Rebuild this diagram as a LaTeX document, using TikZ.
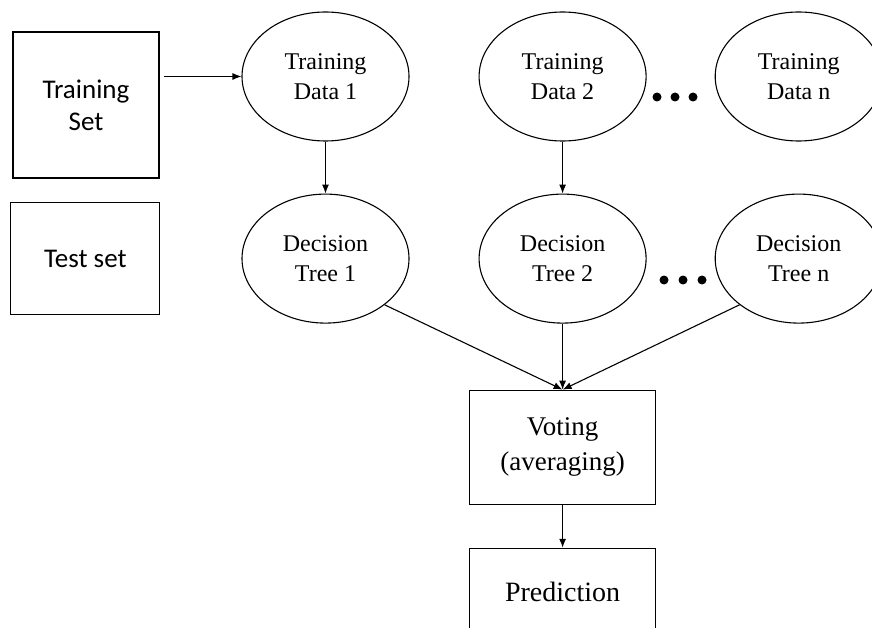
\documentclass[tikz,border=0pt]{standalone}
\usepackage{fontspec}
\setmainfont{Liberation Serif}
\newfontfamily\calibfont{Carlito}
\usetikzlibrary{positioning,arrows.meta,shapes.geometric}

\begin{document}
\begin{tikzpicture}[
    x=1pt, y=1pt,
    line width=1.1pt,
    box/.style={
        draw,
        rectangle,
        inner sep=0pt,
        align=center
    },
    blob/.style={
        draw,
        ellipse,
        inner sep=0pt,
        minimum width=167pt,
        minimum height=129pt,
        align=center,
        font=\fontsize{24}{30}\selectfont
    },
    >={Latex[length=9pt,width=7pt]}
]
\useasboundingbox (0,0) rectangle (872,-628);

% Input boxes
\node[box,minimum width=146pt,minimum height=146pt,font=\calibfont\fontsize{27}{32}\selectfont] (tset) at (86,-105) {Training\\Set};

% Training data
\node[blob] (td1) at (325.5,-76.5) {Training\\Data 1};
\node[blob,right=69pt of td1] (td2) {Training\\Data 2};
\node[blob,right=68pt of td2] (tdn) {Training\\Data n};

% Decision trees
\node[blob,below=52pt of td1] (dt1) {Decision\\Tree 1};
\node[blob,below=52pt of td2] (dt2) {Decision\\Tree 2};
\node[blob,below=52pt of tdn] (dtn) {Decision\\Tree n};

\node[box,minimum width=149pt,minimum height=112pt,font=\calibfont\fontsize{27}{32}\selectfont,left=81pt of dt1] (test) {Test set};

% Output
\node[box,minimum width=186pt,minimum height=114pt,font=\fontsize{27}{35}\selectfont,below=66pt of dt2] (vote) {Voting\\(averaging)};
\node[box,minimum width=186pt,minimum height=88pt,font=\fontsize{28}{34}\selectfont,below=43pt of vote] (pred) {Prediction};

% Dots
\foreach \dx in {657,675,693} \fill (\dx,-97) circle (4.5pt);
\foreach \dx in {664,683,702} \fill (\dx,-280) circle (4.5pt);

% Connectors
\draw[->,shorten <=4pt] (tset.east |- td1.west) -- (td1.west);
\draw[->] (td1) -- (dt1);
\draw[->] (td2) -- (dt2);
\draw[->] (dt1.-38) -- (vote.north);
\draw[->] (dt2) -- (vote.north);
\draw[->] (dtn.218) -- (vote.north);
\draw[->] (vote) -- (pred);

\end{tikzpicture}
\end{document}
